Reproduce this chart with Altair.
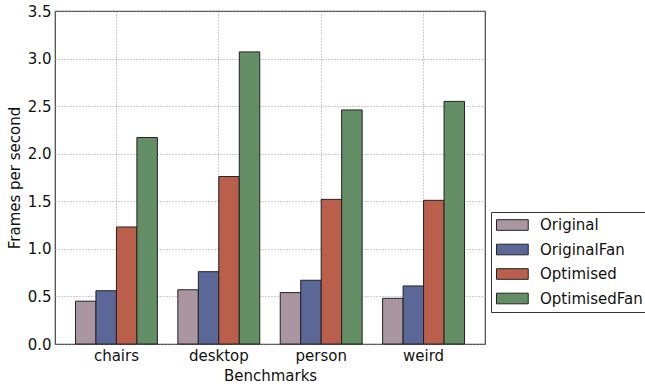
import altair as alt
import pandas as pd

# Benchmarks on the x axis and the four configurations compared
benchmarks = ["chairs", "desktop", "person", "weird"]
series = ["Original", "OriginalFan", "Optimised", "OptimisedFan"]

# Frames per second for each configuration, in benchmark order
original = [0.45, 0.57, 0.54, 0.48]
original_fan = [0.56, 0.76, 0.67, 0.61]
optimised = [1.23, 1.76, 1.52, 1.51]
optimised_fan = [2.17, 3.07, 2.46, 2.55]

colors = ["#AA96A0", "#5A6797", "#BB5F4D", "#648E65"]
y_ticks = [0.0, 0.5, 1.0, 1.5, 2.0, 2.5, 3.0, 3.5]

rows = []
for name, vals in zip(series, [original, original_fan, optimised, optimised_fan]):
    for bench, v in zip(benchmarks, vals):
        rows.append({"Benchmark": bench, "Series": name, "fps": v})
df = pd.DataFrame(rows)

FONT = "DejaVu Sans"
FS = 15

chart = (
    alt.Chart(df)
    .mark_bar(stroke="#222222", strokeWidth=1)
    .encode(
        x=alt.X(
            "Benchmark:N",
            sort=benchmarks,
            scale=alt.Scale(paddingInner=0.2, paddingOuter=0.2),
            axis=alt.Axis(
                title="Benchmarks",
                labelAngle=0,
                labelFontSize=FS,
                titleFontSize=FS,
                titleFontWeight="normal",
                labelPadding=4,
                titlePadding=5,
                tickSize=0,
                domain=False,
                grid=True,
                gridColor="#999999",
                gridDash=[1, 2],
                gridWidth=1,
                labelColor="#111111",
                titleColor="#111111",
            ),
        ),
        xOffset=alt.XOffset("Series:N", sort=series, scale=alt.Scale(paddingInner=0, paddingOuter=0)),
        y=alt.Y(
            "fps:Q",
            scale=alt.Scale(domain=[0, 3.5], nice=False),
            axis=alt.Axis(
                title="Frames per second",
                values=y_ticks,
                format=".1f",
                labelFontSize=FS,
                titleFontSize=FS,
                titleFontWeight="normal",
                labelPadding=4,
                titlePadding=5,
                tickSize=0,
                domain=False,
                grid=True,
                gridColor="#999999",
                gridDash=[1, 2],
                gridWidth=1,
                labelColor="#111111",
                titleColor="#111111",
            ),
        ),
        color=alt.Color(
            "Series:N",
            sort=series,
            scale=alt.Scale(domain=series, range=colors),
            legend=alt.Legend(
                title=None,
                orient="none",
                legendX=436,
                legendY=201,
                padding=5,
                strokeColor="#333333",
                fillColor="white",
                symbolType="M-1,-0.71H3.23V0.71H-1Z",
                symbolSize=225,
                symbolStrokeColor="#222222",
                symbolStrokeWidth=1,
                symbolOpacity=1,
                labelFontSize=FS,
                labelOffset=28,
                rowPadding=8.5,
                labelColor="#111111",
                labelLimit=300,
            ),
        ),
    )
    .properties(
        width=430,
        height=333,
        padding={"left": 55, "top": 11, "right": 160, "bottom": 48},
        autosize=alt.AutoSizeParams(type="none"),
    )
    .configure(font=FONT)
    .configure_view(stroke="#444444", strokeWidth=1.2)
)

chart.save("out.html", embed_options={"renderer": "svg", "actions": False})
